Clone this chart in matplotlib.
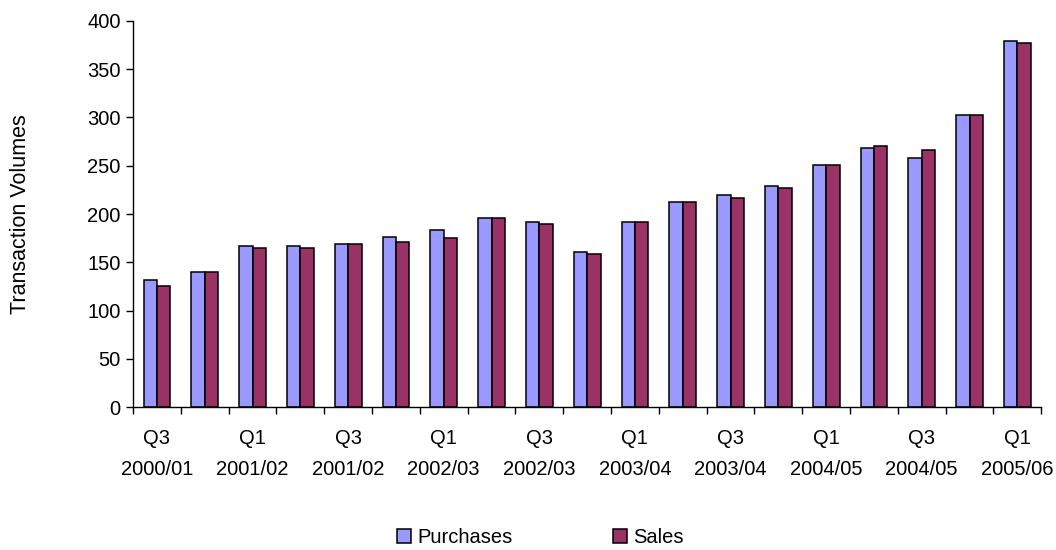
import numpy as np
import matplotlib.pyplot as plt
from matplotlib.ticker import FixedLocator

plt.rcParams['font.family'] = ['Liberation Sans', 'DejaVu Sans']

quarters = ['Q3', 'Q4', 'Q1', 'Q2', 'Q3', 'Q4', 'Q1', 'Q2', 'Q3', 'Q4',
            'Q1', 'Q2', 'Q3', 'Q4', 'Q1', 'Q2', 'Q3', 'Q4', 'Q1']
years = ['2000/01', '2000/01', '2001/02', '2001/02', '2001/02', '2001/02',
         '2002/03', '2002/03', '2002/03', '2002/03', '2003/04', '2003/04',
         '2003/04', '2003/04', '2004/05', '2004/05', '2004/05', '2004/05',
         '2005/06']
purchases = [132, 140, 167, 167, 169, 176, 184, 196, 192, 161,
             192, 213, 220, 229, 251, 268, 258, 303, 379]
sales = [126, 140, 165, 165, 169, 171, 175, 196, 190, 159,
         192, 212, 217, 227, 251, 270, 266, 303, 377]

x = np.arange(len(quarters))
width = 0.28

fig = plt.figure(figsize=(10.56, 5.5), dpi=100)
ax = fig.add_axes([0.126, 0.2595, 0.86, 0.7025])

ax.bar(x - width/2, purchases, width, color='#9999FF', edgecolor='black',
       linewidth=1.1, label='Purchases')
ax.bar(x + width/2, sales, width, color='#993366', edgecolor='black',
       linewidth=1.1, label='Sales')

ax.set_xlim(-0.5, len(quarters) - 0.5)
ax.set_ylim(0, 400)
ax.set_yticks(np.arange(0, 401, 50))

# labels on every other quarter, tick marks between categories
major = x[::2]
ax.xaxis.set_major_locator(FixedLocator(major))
ax.set_xticklabels([quarters[i] + '\n' + years[i] for i in major],
                   linespacing=1.8)
ax.xaxis.set_minor_locator(FixedLocator(np.arange(-0.5, len(quarters), 1)))
ax.tick_params(axis='x', which='major', length=0, pad=16, labelsize=14.5)
ax.tick_params(axis='x', which='minor', length=5, width=1, direction='out')
ax.tick_params(axis='y', length=5, width=1, direction='out', labelsize=14.5,
               pad=4)

for side in ['top', 'right']:
    ax.spines[side].set_visible(False)
ax.spines['left'].set_linewidth(1)
ax.spines['bottom'].set_linewidth(1)

ax.set_ylabel('Transaction Volumes', fontsize=15.5)
ax.yaxis.set_label_coords(-0.112, 0.5)

fig.legend(loc='center', bbox_to_anchor=(0.512, 0.022), ncol=2, frameon=False,
           fontsize=14.5, handlelength=0.7, handleheight=0.7,
           handletextpad=0.3, columnspacing=5.0)

fig.savefig('out.png', dpi=100)
